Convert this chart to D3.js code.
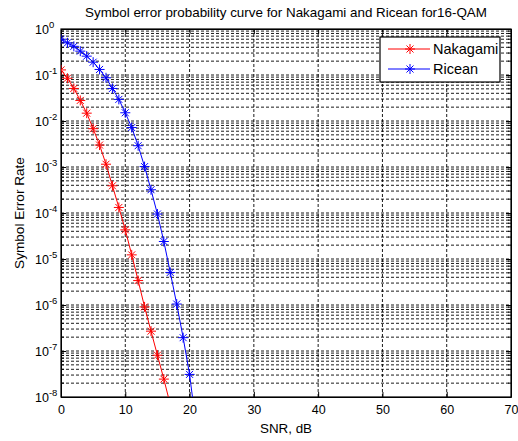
<!DOCTYPE html>
<html>
<head>
<meta charset="utf-8">
<script src="https://cdn.jsdelivr.net/npm/d3@7"></script>
<style>
  body { margin: 0; background: #fff; }
  svg { display: block; font-family: "Liberation Sans", Arial, sans-serif; }
</style>
</head>
<body>
<div id="chart"></div>
<script>
// SNR values (dB) and symbol error rates
const snr = [0, 1, 2, 3, 4, 5, 6, 7, 8, 9, 10, 11, 12, 13, 14, 15, 16, 17, 18, 19, 20, 21];
const nakagami = [1.29e-1, 8.5e-2, 5.1e-2, 2.8e-2, 1.48e-2, 6.8e-3, 3.0e-3, 1.15e-3, 3.9e-4,
  1.32e-4, 4.3e-5, 1.23e-5, 3.4e-6, 9.1e-7, 2.7e-7, 8.1e-8, 2.45e-8, 6.8e-9];
const ricean = [6.0e-1, 5.0e-1, 4.2e-1, 3.3e-1, 2.57e-1, 1.9e-1, 1.32e-1, 8.7e-2, 5.1e-2,
  2.95e-2, 1.51e-2, 7.2e-3, 2.9e-3, 1.02e-3, 3.2e-4, 9.5e-5, 2.4e-5, 5.1e-6, 1.05e-6,
  1.95e-7, 3.1e-8, 2.5e-9];
const xTicks = [0, 10, 20, 30, 40, 50, 60, 70];
const yTicks = [1e-8, 1e-7, 1e-6, 1e-5, 1e-4, 1e-3, 1e-2, 1e-1, 1];
const seriesNames = ["Nakagami", "Ricean"];
const seriesColors = ["#ff0000", "#0000ff"];

// Dimensions
const width = 518;
const height = 441;
const margin = { top: 29, right: 7, bottom: 44, left: 61 };
const w = width - margin.left - margin.right;
const h = height - margin.top - margin.bottom;

const svg = d3.select("#chart")
  .append("svg")
  .attr("width", width)
  .attr("height", height);

const g = svg.append("g")
  .attr("transform", `translate(${margin.left}, ${margin.top})`);

// Scales
const x = d3.scaleLinear().domain([0, 70]).range([0, w]);
const y = d3.scaleLog().domain([1e-8, 1]).range([h, 0]);

// minor log positions (2..9 in every decade)
const minorY = [];
for (let e = -8; e < 0; e++) {
  for (let m = 2; m <= 9; m++) minorY.push(m * Math.pow(10, e));
}

// Grid lines (MATLAB style dotted)
const grid = g.append("g").attr("class", "grid")
  .attr("stroke", "#000")
  .attr("stroke-width", 0.9)
  .attr("stroke-dasharray", "3,2");

grid.selectAll(".gx")
  .data(xTicks.slice(1, -1))
  .enter().append("line")
  .attr("x1", d => x(d)).attr("x2", d => x(d))
  .attr("y1", 0).attr("y2", h);

grid.selectAll(".gy")
  .data(yTicks.slice(1, -1).concat(minorY))
  .enter().append("line")
  .attr("x1", 0).attr("x2", w)
  .attr("y1", d => y(d)).attr("y2", d => y(d));

// Axes with inward ticks
const axisStyle = sel => {
  sel.select(".domain").attr("stroke", "#000");
  sel.selectAll(".tick line").attr("stroke", "#000");
  sel.selectAll("text").attr("fill", "#000");
};

g.append("g")
  .attr("transform", `translate(0, ${h})`)
  .call(d3.axisBottom(x).tickValues(xTicks).tickSize(-5).tickSizeOuter(0).tickPadding(8))
  .attr("font-size", 12.5)
  .attr("font-family", null)
  .call(axisStyle);

g.append("g")
  .call(d3.axisTop(x).tickValues(xTicks).tickSize(-5).tickSizeOuter(0).tickFormat(""))
  .call(axisStyle);

const yAxis = g.append("g")
  .call(d3.axisLeft(y).tickValues(yTicks).tickSize(-5).tickSizeOuter(0).tickPadding(8))
  .attr("font-size", 12.5)
  .attr("font-family", null)
  .call(axisStyle);

// "10" part aligned, exponent hanging to the right (as MATLAB does)
yAxis.selectAll(".tick text").each(function (d) {
  const t = d3.select(this);
  t.text("").attr("text-anchor", "start").attr("x", -26);
  t.append("tspan").text("10");
  t.append("tspan").attr("dy", "-0.55em").attr("font-size", 9.5)
    .text(Math.round(Math.log10(d)));
});

g.append("g")
  .attr("transform", `translate(${w}, 0)`)
  .call(d3.axisRight(y).tickValues(yTicks).tickSize(-5).tickSizeOuter(0).tickFormat(""))
  .call(axisStyle);

// minor ticks left and right
g.append("g").selectAll("line")
  .data(minorY)
  .enter().append("line")
  .attr("x1", 0).attr("x2", 3)
  .attr("y1", d => y(d)).attr("y2", d => y(d))
  .attr("stroke", "#000");
g.append("g").selectAll("line")
  .data(minorY)
  .enter().append("line")
  .attr("x1", w - 3).attr("x2", w)
  .attr("y1", d => y(d)).attr("y2", d => y(d))
  .attr("stroke", "#000");

// Box
g.append("rect")
  .attr("width", w).attr("height", h)
  .attr("fill", "none").attr("stroke", "#000").attr("stroke-width", 1.2);

// Curves
svg.append("defs").append("clipPath").attr("id", "clip")
  .append("rect").attr("width", w).attr("height", h);

const line = d3.line()
  .x(d => x(d[0]))
  .y(d => y(d[1]));

const star = (sel, color) => {
  const s = 5;
  const k = s * 0.7;
  sel.append("path")
    .attr("d", `M${-s},0H${s}M0,${-s}V${s}M${-k},${-k}L${k},${k}M${-k},${k}L${k},${-k}`)
    .attr("stroke", color)
    .attr("stroke-width", 1)
    .attr("fill", "none");
};

const plot = g.append("g").attr("clip-path", "url(#clip)");

[nakagami, ricean].forEach((vals, i) => {
  const pts = vals.map((v, j) => [snr[j], v]);
  plot.append("path")
    .datum(pts)
    .attr("d", line)
    .attr("fill", "none")
    .attr("stroke", seriesColors[i])
    .attr("stroke-width", 1);
  plot.selectAll(".m" + i)
    .data(pts)
    .enter().append("g")
    .attr("class", "m" + i)
    .attr("transform", d => `translate(${x(d[0])}, ${y(d[1])})`)
    .each(function () { star(d3.select(this), seriesColors[i]); });
});

// Legend
const legend = svg.append("g").attr("transform", "translate(380, 37)");
legend.append("rect")
  .attr("width", 120).attr("height", 45)
  .attr("fill", "#fff").attr("stroke", "#000").attr("stroke-width", 1.2);
seriesNames.forEach((name, i) => {
  const row = legend.append("g").attr("transform", `translate(0, ${12 + i * 20})`);
  row.append("line")
    .attr("x1", 8).attr("x2", 50)
    .attr("stroke", seriesColors[i]).attr("stroke-width", 1);
  star(row.append("g").attr("transform", "translate(30, 0)"), seriesColors[i]);
  row.append("text")
    .attr("x", 53).attr("y", 5)
    .attr("font-size", 14.5)
    .text(name);
});

// Titles
svg.append("text")
  .attr("x", margin.left + w / 2).attr("y", 17)
  .attr("text-anchor", "middle")
  .attr("font-size", 13.4)
  .text("Symbol error probability curve for Nakagami and Ricean for16-QAM");

svg.append("text")
  .attr("x", margin.left + w / 2).attr("y", 433)
  .attr("text-anchor", "middle")
  .attr("font-size", 13.4)
  .text("SNR, dB");

svg.append("text")
  .attr("transform", `translate(24, ${margin.top + h / 2}) rotate(-90)`)
  .attr("text-anchor", "middle")
  .attr("font-size", 13.6)
  .text("Symbol Error Rate");
</script>
</body>
</html>
